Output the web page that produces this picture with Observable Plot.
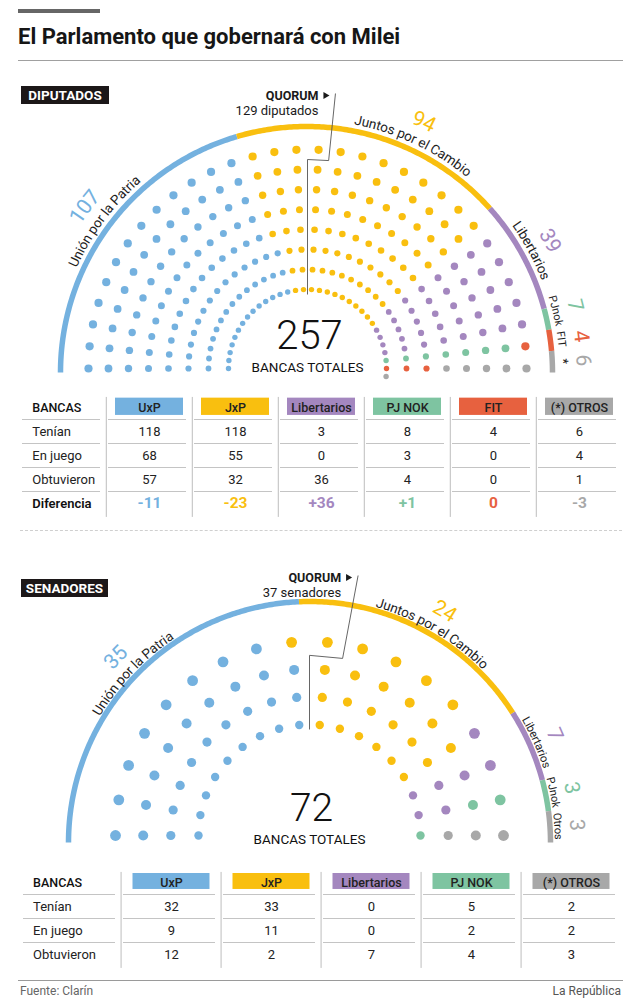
<!DOCTYPE html>
<html><head><meta charset="utf-8">
<script src="https://cdn.jsdelivr.net/npm/d3@7"></script>
<script src="https://cdn.jsdelivr.net/npm/@observablehq/plot@0.6"></script>
<style>
body{margin:0;background:#fff;font-family:Roboto,sans-serif;color:#1a1a1a;}
#page{position:relative;width:640px;height:1000px;overflow:hidden;background:#fff;}
.abs{position:absolute;}
.tag{background:#1c1718;color:#fff;font-weight:700;font-size:13.5px;line-height:18px;height:18px;text-align:center;}
</style></head><body><div id="page">
<div class="abs" style="left:18px;top:9px;width:82px;height:4px;background:#666"></div>
<div class="abs" style="left:18px;top:26px;font-size:22px;line-height:22px;font-weight:700;color:#161616;white-space:nowrap">El Parlamento que gobernará con Milei</div>
<div class="abs" style="left:18px;top:60px;width:605px;height:0;border-top:1.5px solid #a0a0a0"></div>
<div class="abs tag" style="left:21px;top:86px;width:88px">DIPUTADOS</div>
<div class="abs" style="left:20px;top:530px;width:602px;height:0;border-top:1px dashed #cfcfcf"></div>
<div class="abs tag" style="left:21px;top:579px;width:87px">SENADORES</div>
<div class="abs" style="left:18px;top:980px;width:605px;height:0;border-top:1px solid #9a9a9a"></div>
<div class="abs" style="left:20px;top:984px;font-size:12px;line-height:14px;color:#666">Fuente: Clarín</div>
<div class="abs" style="right:19px;top:984px;font-size:12px;line-height:14px;color:#555">La República</div>
</div>
<script>
// ---------------- DATA ----------------
// Diputados
const dipParties = ["UxP", "JxC", "Libertarios", "PJ NOK", "FIT", "Otros"];
const dipArcLabels = ["Unión por la Patria", "Juntos por el Cambio", "Libertarios", "PJnok", "FIT", "*"];
const dipSeats = [107, 94, 39, 7, 4, 6];
const dipTotal = 257;
const dipQuorum = 129;
const dipQuorumText = "129 diputados";
const dipTableCols = ["UxP", "JxP", "Libertarios", "PJ NOK", "FIT", "(*) OTROS"];
const dipTenian = [118, 118, 3, 8, 4, 6];
const dipEnJuego = [68, 55, 0, 3, 0, 4];
const dipObtuvieron = [57, 32, 36, 4, 0, 1];
const dipDiferencia = [-11, -23, 36, 1, 0, -3];
// Senadores
const senParties = ["UxP", "JxC", "Libertarios", "PJ NOK", "Otros"];
const senArcLabels = ["Unión por la Patria", "Juntos por el Cambio", "Libertarios", "PJnok", "Otros"];
const senSeats = [35, 24, 7, 3, 3];
const senTotal = 72;
const senQuorum = 37;
const senQuorumText = "37 senadores";
const senTableCols = ["UxP", "JxP", "Libertarios", "PJ NOK", "(*) OTROS"];
const senTenian = [32, 33, 0, 5, 2];
const senEnJuego = [9, 11, 0, 2, 2];
const senObtuvieron = [12, 2, 7, 4, 3];
// Shared texts
const dipRowLabels = ["Tenían", "En juego", "Obtuvieron", "Diferencia"];
const senRowLabels = ["Tenían", "En juego", "Obtuvieron"];
const totalLabel = "BANCAS TOTALES";

// ---------------- STYLE ----------------
const COLORS = {"UxP": "#74b1df", "JxC": "#f9bf0f", "Libertarios": "#a487bf", "PJ NOK": "#7ec4a1", "FIT": "#e7613f", "Otros": "#a8a8a8"};
const TABLE_COLORS = {"UxP": COLORS.UxP, "JxP": COLORS.JxC, "Libertarios": COLORS.Libertarios, "PJ NOK": COLORS["PJ NOK"], "FIT": COLORS.FIT, "(*) OTROS": COLORS.Otros};
const FONT = "Roboto, sans-serif";

const ctx = document.createElement("canvas").getContext("2d");
function measure(text, size, weight) { ctx.font = `${weight} ${size}px Roboto`; return ctx.measureText(text).width; }
function arcText(text, size, weight, cx, cy, r, angDeg, extra) {
  const W = measure(text, size, weight);
  const start = angDeg * Math.PI / 180 + W / (2 * r);
  let acc = 0; const out = [];
  for (const ch of [...text]) {
    const w = measure(ch, size, weight);
    const a = start - (acc + w / 2) / r;
    out.push({x: cx + r * Math.cos(a), y: cy - r * Math.sin(a), rot: 90 - a * 180 / Math.PI, ch, size, ...extra});
    acc += w;
  }
  return out;
}

function hemicycle(o) {
  const nRows = o.radii.length;
  const nSpokes = Math.floor(o.total / nRows);
  const extra = o.total - nSpokes * nRows;
  const step = 180 / (nSpokes - 1);
  const seats = [];
  o.radii.forEach((r, j) => {
    const n = nSpokes + (j === 0 ? extra : 0);
    for (let k = 0; k < n; k++) seats.push({k, j, r, a: 180 - k * step});
  });
  seats.sort((p, q) => p.k - q.k || p.j - q.j);
  let idx = 0;
  o.parties.forEach((p, pi) => { for (let s = 0; s < o.seats[pi]; s++) seats[idx++].party = p; });
  seats.forEach(s => { const t = s.a * Math.PI / 180; s.x = o.cx + s.r * Math.cos(t); s.y = o.cy - s.r * Math.sin(t); s.size = o.dotR[s.j]; });

  // outer arc segments
  const raw = o.seats.map(s => s / o.total * 180);
  const small = raw.map(d => d < o.minArc);
  const fixed = small.filter(Boolean).length * o.minArc;
  const restRaw = d3.sum(raw.filter((d, i) => !small[i]));
  const deg = raw.map((d, i) => small[i] ? o.minArc : d * (180 - fixed) / restRaw);
  let a0 = 180; const segs = []; const arcPts = [];
  o.parties.forEach((p, i) => {
    const a1 = a0 - deg[i];
    segs.push({party: p, a0, a1, mid: (a0 + a1) / 2});
    const n = Math.max(2, Math.ceil((a0 - a1) / 0.5));
    for (let t = 0; t <= n; t++) {
      const a = (a0 - (a0 - a1) * t / n) * Math.PI / 180;
      arcPts.push({party: p, x: o.acx + o.R * Math.cos(a), y: o.acy - o.R * Math.sin(a)});
    }
    a0 = a1;
  });

  // quorum line
  const qSpoke = Math.floor((o.quorum - 1) / nRows);
  const g0 = (180 - (qSpoke - 0.5) * step) * Math.PI / 180;
  const gapDeg = 180 - (qSpoke + 0.5) * step;
  const g1 = gapDeg * Math.PI / 180;
  const jogR = (o.radii[nRows - 2] + o.radii[nRows - 1]) / 2;
  const rTop = (o.cy - o.qTop) / Math.sin(g1);
  const qLine = [
    {x: o.cx + (o.radii[0] - 5) * Math.cos(g0), y: o.cy - (o.radii[0] - 5) * Math.sin(g0)},
    {x: o.cx + jogR * Math.cos(g0), y: o.cy - jogR * Math.sin(g0)},
    {x: o.cx + jogR * Math.cos(g1), y: o.cy - jogR * Math.sin(g1)},
    {x: o.cx + rTop * Math.cos(g1), y: o.qTop}
  ];
  const topX = qLine[3].x;

  // labels along the arc
  const labs = segs.map((s, i) => {
    const size = o.labelSize[i];
    const W = measure(o.arcLabels[i], size, 400);
    return {i, size, span: W / o.rLabel * 180 / Math.PI, c: s.mid};
  });
  labs.forEach(l => { if (l.c < gapDeg) l.c = Math.min(l.c, gapDeg - 5 - l.span / 2); });
  const sorted = [...labs].sort((a, b) => a.c - b.c);
  for (let t = 1; t < sorted.length; t++) {
    const prev = sorted[t - 1], cur = sorted[t];
    const lo = cur.c - cur.span / 2, need = prev.c + prev.span / 2 + 1.5;
    if (lo < need) cur.c += need - lo;
  }
  const labelChars = labs.flatMap(l => arcText(o.arcLabels[l.i], l.size, 400, o.acx, o.acy, o.rLabel, l.c, {}));
  const numChars = labs.flatMap(l => arcText(String(o.seats[l.i]), o.numSize, 400, o.acx, o.acy, o.rNum, l.c, {party: o.parties[l.i]}));

  return Plot.plot({
    width: 640, height: o.height, margin: 0,
    style: {fontFamily: FONT, background: "transparent", overflow: "visible"},
    x: {domain: [0, 640], range: [0, 640], axis: null},
    y: {domain: [o.top, o.top + o.height], range: [0, o.height], axis: null},
    r: {type: "identity"},
    color: {domain: o.parties, range: o.parties.map(p => COLORS[p])},
    marks: [
      Plot.line(arcPts, {x: "x", y: "y", z: "party", stroke: "party", strokeWidth: 5.5, strokeLinecap: "butt", strokeLinejoin: "round"}),
      Plot.dot(seats, {x: "x", y: "y", r: d => d.size, fill: "party"}),
      Plot.line(qLine, {x: "x", y: "y", stroke: "#555", strokeWidth: 0.9, strokeLinecap: "butt"}),
      Plot.text(labelChars, {x: "x", y: "y", text: d => d.ch, rotate: d => d.rot, fontSize: d => d.size, fill: "#1e1e1e", textAnchor: "middle", lineAnchor: "middle", fontFamily: FONT}),
      Plot.text(numChars, {x: "x", y: "y", text: d => d.ch, rotate: d => d.rot, fontSize: o.numSize, fill: "party", textAnchor: "middle", lineAnchor: "middle", fontFamily: FONT}),
      Plot.text(["QUORUM"], {x: () => topX - 17, y: () => o.qTop + 6.5, text: d => d, textAnchor: "end", lineAnchor: "bottom", fontWeight: 700, fontSize: 12.5, fill: "#1a1a1a", fontFamily: FONT}),
      Plot.dot([0], {x: () => topX - 10, y: () => o.qTop + 2, symbol: "triangle", r: 2.6, rotate: 90, fill: "#1a1a1a"}),
      Plot.text([o.quorumText], {x: () => topX - 17, y: () => o.qTop + 21, text: d => d, textAnchor: "end", lineAnchor: "bottom", fontSize: 13, fill: "#1a1a1a", fontFamily: FONT}),
      Plot.text([String(o.total)], {x: () => o.cx + 2, y: () => o.totalY, text: d => d, textAnchor: "middle", lineAnchor: "bottom", fontSize: o.totalSize, fontWeight: 300, fill: "#111", fontFamily: FONT}),
      Plot.text([totalLabel], {x: () => o.cx, y: () => o.subY, text: d => d, textAnchor: "middle", lineAnchor: "bottom", fontSize: 13.5, fill: "#111", fontFamily: FONT})
    ]
  });
}

function table(o) {
  const cols = ["BANCAS", ...o.cols];
  const nR = o.rows.length + 1 + (o.diff ? 1 : 0);
  const bw = 605 / cols.length;
  const cells = [];
  o.rows.forEach((vals, ri) => vals.forEach((v, ci) => cells.push({col: o.cols[ci], row: ri + 1, text: String(v)})));
  const lines = [];
  for (let r = 1; r < nR; r++) cols.forEach(c => lines.push({col: c, y: r}));
  const plainLabels = o.diff ? o.rowLabels.slice(0, -1) : o.rowLabels;
  const marks = [
    Plot.ruleX(cols.slice(1), {x: d => d, y1: () => 0.08, y2: () => nR + 0.08, dx: -bw / 2, stroke: "#bdbdbd", strokeWidth: 1}),
    Plot.tickY(lines, {x: "col", y: "y", stroke: "#c4c4c4", strokeWidth: 1, insetLeft: 2, insetRight: 6}),
    Plot.barY(o.cols, {x: d => d, y1: () => o.boxY[0], y2: () => o.boxY[1], fill: d => d, insetLeft: o.boxInset, insetRight: o.boxInset}),
    Plot.text(o.cols, {x: d => d, y: () => 0.5, text: d => d, fontSize: 12.5, fontWeight: 500, fill: "#222", fontFamily: FONT}),
    Plot.text(["BANCAS"], {x: d => d, y: () => 0.5, text: d => d, textAnchor: "start", dx: -bw / 2 + 12, fontSize: 12.5, fontWeight: 500, fill: "#111", fontFamily: FONT}),
    Plot.text(plainLabels, {x: () => "BANCAS", y: (d, i) => i + 1.5, text: d => d, textAnchor: "start", dx: -bw / 2 + 12, fontSize: 13, fill: "#222", fontFamily: FONT}),
    Plot.text(cells, {x: "col", y: d => d.row + 0.5, text: "text", fontSize: 13, fill: "#222", fontFamily: FONT})
  ];
  if (o.diff) {
    marks.push(Plot.text(o.rowLabels.slice(-1), {x: () => "BANCAS", y: () => nR - 0.5, text: d => d, textAnchor: "start", dx: -bw / 2 + 12, fontSize: 13, fontWeight: 600, fill: "#111", fontFamily: FONT}));
    marks.push(Plot.text(o.diff, {x: (d, i) => o.cols[i], y: () => nR - 0.5, text: d => d > 0 ? "+" + d : String(d), fill: (d, i) => o.cols[i], fontSize: 15.5, fontWeight: 700, fontFamily: FONT}));
  }
  return Plot.plot({
    width: 640, height: o.height, margin: 0,
    style: {fontFamily: FONT, background: "transparent"},
    x: {type: "band", domain: cols, range: [18, 623], padding: 0, axis: null},
    y: {domain: [0, nR], range: [0, nR * 24], axis: null},
    color: {domain: o.cols, range: o.cols.map(c => TABLE_COLORS[c])},
    marks
  });
}

function place(el, top) {
  const d = document.createElement("div");
  d.className = "abs"; d.style.left = "0px"; d.style.top = top + "px";
  d.appendChild(el);
  document.getElementById("page").appendChild(d);
}

place(hemicycle({
  parties: dipParties, seats: dipSeats, total: dipTotal, arcLabels: dipArcLabels, quorum: dipQuorum, quorumText: dipQuorumText,
  top: 70, height: 320, cx: 307, cy: 368, acx: 306, acy: 372, R: 246,
  radii: [79, 99, 119, 139, 159, 179, 199, 219], dotR: [2.7, 2.9, 3.1, 3.3, 3.5, 3.7, 3.9, 4.1],
  minArc: 5, qTop: 93, rLabel: 257, rNum: 277, labelSize: [13.5, 13.5, 13.5, 11, 11, 13], numSize: 21,
  totalY: 348, totalSize: 40, subY: 371.5
}), 70);

place(table({
  cols: dipTableCols, rows: [dipTenian, dipEnJuego, dipObtuvieron], diff: dipDiferencia,
  rowLabels: dipRowLabels, height: 125, boxInset: 9, boxY: [0.11, 0.83]
}), 395);

place(hemicycle({
  parties: senParties, seats: senSeats, total: senTotal, arcLabels: senArcLabels, quorum: senQuorum, quorumText: senQuorumText,
  top: 560, height: 300, cx: 309, cy: 835, acx: 309, acy: 842, R: 241,
  radii: [111, 138.7, 166.3, 194], dotR: [4.2, 4.6, 5.0, 5.4],
  minArc: 5, qTop: 575, rLabel: 249, rNum: 268, labelSize: [13.5, 13.5, 11.5, 11, 11], numSize: 21,
  totalY: 820, totalSize: 39, subY: 843.5
}), 560);

place(table({
  cols: senTableCols, rows: [senTenian, senEnJuego, senObtuvieron],
  rowLabels: senRowLabels, height: 100, boxInset: 11.5, boxY: [0.125, 0.79]
}), 870);
</script>
</body></html>
